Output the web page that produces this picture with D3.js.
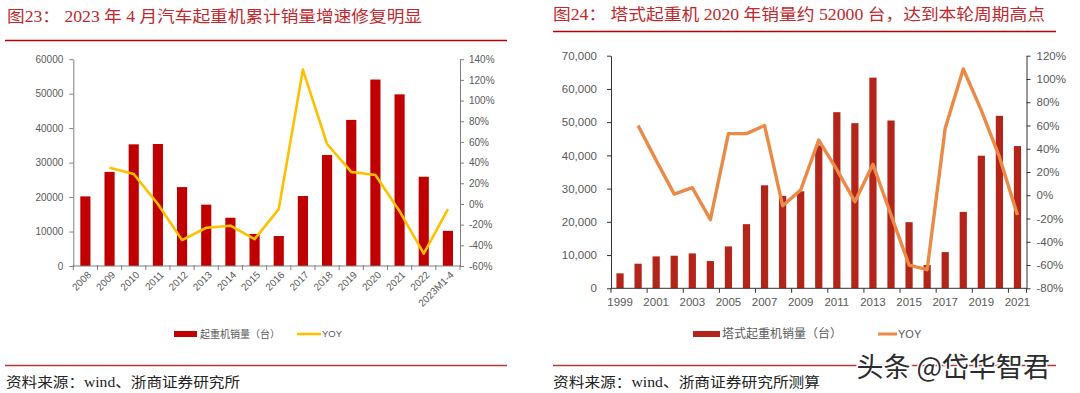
<!DOCTYPE html>
<html><head><meta charset="utf-8">
<script src="https://cdn.jsdelivr.net/npm/d3@7"></script>
<style>
html,body{margin:0;padding:0;background:#fff;}
svg{display:block;}
</style></head>
<body>
<svg id="c" width="1080" height="393"></svg>
<script>
// ---------- data ----------
const leftCats = ['2008','2009','2010','2011','2012','2013','2014','2015','2016','2017','2018','2019','2020','2021','2022','2023M1-4'];
const leftSales = [20200, 27300, 35300, 35400, 22900, 17800, 14000, 9300, 8700, 20300, 32200, 42400, 54100, 49800, 25900, 10200];
const leftYoy = [null, 35, 29, 0, -35, -23, -21, -34, -5, 130, 58, 31, 28, -7, -48, -5];
const leftYTicks = [0, 10000, 20000, 30000, 40000, 50000, 60000];
const leftY2Ticks = [-60, -40, -20, 0, 20, 40, 60, 80, 100, 120, 140];

const rightCats = ['1999','2000','2001','2002','2003','2004','2005','2006','2007','2008','2009','2010','2011','2012','2013','2014','2015','2016','2017','2018','2019','2020','2021'];
const rightSales = [4500, 7400, 9600, 9800, 10500, 8200, 12600, 19300, 31000, 27800, 29200, 43000, 53000, 49700, 63400, 50500, 19900, 7000, 10900, 23000, 39900, 51900, 42800];
const rightYoy = [null, 60, 30, 1, 6.5, -21, 53, 53, 60, -9, 4.5, 47.5, 22, -5.5, 26.6, -17, -60, -64, 57.6, 108.6, 73, 33, -17];
const rightYTicks = [0, 10000, 20000, 30000, 40000, 50000, 60000, 70000];
const rightY2Ticks = [-80, -60, -40, -20, 0, 20, 40, 60, 80, 100, 120];

const leftTitle = '图23：  2023 年 4 月汽车起重机累计销量增速修复明显';
const rightTitle = '图24：  塔式起重机 2020 年销量约 52000 台，达到本轮周期高点';
const leftSource = '资料来源：wind、浙商证券研究所';
const rightSource = '资料来源：wind、浙商证券研究所测算';
const leftLegend = ['起重机销量（台）', 'YOY'];
const rightLegend = ['塔式起重机销量（台）', 'YOY'];
const watermark = '头条 @岱华智君';

// ---------- drawing ----------
const svg = d3.select('#c');
const SERIF = '"Liberation Serif", "Noto Sans CJK SC", serif';
const SANS = '"Liberation Sans", "Noto Sans CJK SC", sans-serif';
const CJK = '"Noto Sans CJK SC", sans-serif';
const titleRed = '#C1272D';

// titles & rules
function header(x, y, text, len, lineY, lineX1, lineX2) {
  svg.append('text').attr('x', x).attr('y', y).text(text)
    .attr('font-family', SERIF).attr('font-size', 16).attr('fill', titleRed)
    .attr('textLength', len).attr('lengthAdjust', 'spacingAndGlyphs');
  svg.append('line').attr('x1', lineX1).attr('x2', lineX2).attr('y1', lineY).attr('y2', lineY)
    .attr('stroke', '#C00000').attr('stroke-width', 1.5);
}
header(7, 22, leftTitle, 415, 40.5, 5, 507);
header(553, 20, rightTitle, 492, 31.5, 553, 1056);

function footer(x, y, text, len, lineX1, lineX2, lineY) {
  svg.append('line').attr('x1', lineX1).attr('x2', lineX2).attr('y1', lineY).attr('y2', lineY)
    .attr('stroke', '#B33A3A').attr('stroke-width', 1.5);
  svg.append('text').attr('x', x).attr('y', y).text(text)
    .attr('font-family', SERIF).attr('font-size', 14).attr('fill', '#222')
    .attr('textLength', len).attr('lengthAdjust', 'spacingAndGlyphs');
}
footer(6, 387, leftSource, 234, 5, 507, 365.5);
footer(553, 387, rightSource, 267, 553, 1056, 365.5);

// ---------- left chart ----------
(function(){
  const x0 = 73.3, x1 = 460, yb = 266, yt = 59.2;
  const axisColor = '#7f7f7f', labelColor = '#595959';
  const x = d3.scaleBand().domain(leftCats).range([x0, x1]).paddingInner(0.58).paddingOuter(0.29);
  const y = d3.scaleLinear().domain([0, 60000]).range([yb, yt]);
  const y2 = d3.scaleLinear().domain([-60, 140]).range([yb, yt]);
  const g = svg.append('g');

  g.selectAll('rect.bar').data(leftSales).enter().append('rect')
    .attr('x', (d,i) => x(leftCats[i])).attr('width', x.bandwidth())
    .attr('y', d => y(d)).attr('height', d => y(0) - y(d)).attr('fill', '#C00000');

  const ax = g.append('g').attr('transform', `translate(${x0},0)`)
    .call(d3.axisLeft(y).tickValues(leftYTicks).tickSize(4).tickSizeOuter(0).tickPadding(6).tickFormat(d3.format('d')));
  const ax2 = g.append('g').attr('transform', `translate(${x1},0)`)
    .call(d3.axisRight(y2).tickValues(leftY2Ticks).tickSize(4).tickSizeOuter(0).tickPadding(5).tickFormat(d => d + '%'));
  [ax, ax2].forEach(a => {
    a.select('.domain').attr('stroke', axisColor);
    a.selectAll('.tick line').attr('stroke', axisColor);
    a.selectAll('.tick text').attr('fill', labelColor).attr('font-family', SANS).attr('font-size', 10);
  });
  // x axis
  g.append('line').attr('x1', x0).attr('x2', x1).attr('y1', yb).attr('y2', yb).attr('stroke', axisColor);
  d3.range(leftCats.length + 1).forEach(i => {
    const xx = x0 + i * x.step();
    g.append('line').attr('x1', xx).attr('x2', xx).attr('y1', yb - 1).attr('y2', yb + 4).attr('stroke', axisColor);
  });
  leftCats.forEach(c => {
    const cx = x(c) + x.bandwidth() / 2;
    g.append('text').text(c).attr('text-anchor', 'end')
      .attr('transform', `translate(${cx + 4},${yb + 7}) rotate(-45)`)
      .attr('dy', '0.35em')
      .attr('font-family', SANS).attr('font-size', 10).attr('fill', labelColor);
  });

  const line = d3.line().defined(d => d.v !== null)
    .x(d => x(d.c) + x.bandwidth() / 2).y(d => y2(d.v));
  g.append('path').datum(leftCats.map((c,i) => ({c, v: leftYoy[i]})))
    .attr('d', line).attr('fill', 'none').attr('stroke', '#FFC000').attr('stroke-width', 2.6)
    .attr('stroke-linejoin', 'round');

  // legend
  g.append('rect').attr('x', 174).attr('y', 331).attr('width', 23).attr('height', 6).attr('fill', '#C00000');
  g.append('text').attr('x', 200).attr('y', 334).attr('dy', '0.35em').text(leftLegend[0])
    .attr('font-family', CJK).attr('font-size', 10).attr('fill', labelColor);
  g.append('line').attr('x1', 297).attr('x2', 321).attr('y1', 334).attr('y2', 334)
    .attr('stroke', '#FFC000').attr('stroke-width', 2.6);
  g.append('text').attr('x', 322).attr('y', 334).attr('dy', '0.35em').text(leftLegend[1])
    .attr('font-family', SANS).attr('font-size', 9.5).attr('fill', labelColor);
})();

// ---------- right chart ----------
(function(){
  const x0 = 611, x1 = 1026.5, yb = 288.3, yt = 55.7;
  const axisColor = '#333', labelColor = '#595959';
  const x = d3.scaleBand().domain(rightCats).range([x0, x1]).paddingInner(0.6).paddingOuter(0.3);
  const y = d3.scaleLinear().domain([0, 70000]).range([yb, yt]);
  const y2 = d3.scaleLinear().domain([-80, 120]).range([yb, yt]);
  const g = svg.append('g');

  g.selectAll('rect.bar').data(rightSales).enter().append('rect')
    .attr('x', (d,i) => x(rightCats[i])).attr('width', x.bandwidth())
    .attr('y', d => y(d)).attr('height', d => y(0) - y(d)).attr('fill', '#B3241A');

  const ax = g.append('g').attr('transform', `translate(${x0},0)`)
    .call(d3.axisLeft(y).tickValues(rightYTicks).tickSize(4).tickSizeOuter(0).tickPadding(10).tickFormat(d3.format(',')));
  const ax2 = g.append('g').attr('transform', `translate(${x1},0)`)
    .call(d3.axisRight(y2).tickValues(rightY2Ticks).tickSize(4).tickSizeOuter(0).tickPadding(6).tickFormat(d => d + '%'));
  [ax, ax2].forEach(a => {
    a.select('.domain').attr('stroke', axisColor);
    a.selectAll('.tick line').attr('stroke', axisColor);
    a.selectAll('.tick text').attr('fill', labelColor).attr('font-family', SANS).attr('font-size', 11.5);
  });
  g.append('line').attr('x1', x0).attr('x2', x1).attr('y1', yb).attr('y2', yb).attr('stroke', axisColor);
  d3.range(0, rightCats.length + 1, 2).concat([rightCats.length]).forEach(i => {
    const xx = x0 + i * x.step();
    g.append('line').attr('x1', xx).attr('x2', xx).attr('y1', yb).attr('y2', yb + 4.5).attr('stroke', axisColor);
  });
  rightCats.forEach((c, i) => {
    if (i % 2) return;
    g.append('text').text(c).attr('text-anchor', 'middle')
      .attr('x', x(c) + x.bandwidth() / 2).attr('y', yb + 18)
      .attr('font-family', SANS).attr('font-size', 11.5).attr('fill', labelColor);
  });

  const line = d3.line().defined(d => d.v !== null)
    .x(d => x(d.c) + x.bandwidth() / 2).y(d => y2(d.v));
  g.append('path').datum(rightCats.map((c,i) => ({c, v: rightYoy[i]})))
    .attr('d', line).attr('fill', 'none').attr('stroke', '#EB8A47').attr('stroke-width', 3.4)
    .attr('stroke-linejoin', 'round');

  // legend
  g.append('rect').attr('x', 693).attr('y', 331).attr('width', 27).attr('height', 6).attr('fill', '#B3241A');
  g.append('text').attr('x', 722).attr('y', 334).attr('dy', '0.35em').text(rightLegend[0])
    .attr('font-family', CJK).attr('font-size', 12).attr('fill', labelColor);
  g.append('line').attr('x1', 878).attr('x2', 897).attr('y1', 334).attr('y2', 334)
    .attr('stroke', '#EB8A47').attr('stroke-width', 3);
  g.append('text').attr('x', 898).attr('y', 334).attr('dy', '0.35em').text(rightLegend[1])
    .attr('font-family', SANS).attr('font-size', 11).attr('fill', labelColor);
})();

// watermark
svg.append('text').attr('x', 1050).attr('y', 377).attr('text-anchor', 'end').text(watermark)
  .attr('font-family', CJK).attr('font-size', 27).attr('fill', '#2b2b2b')
  .attr('stroke', '#fff').attr('stroke-width', 3).attr('paint-order', 'stroke');
</script>
</body></html>
